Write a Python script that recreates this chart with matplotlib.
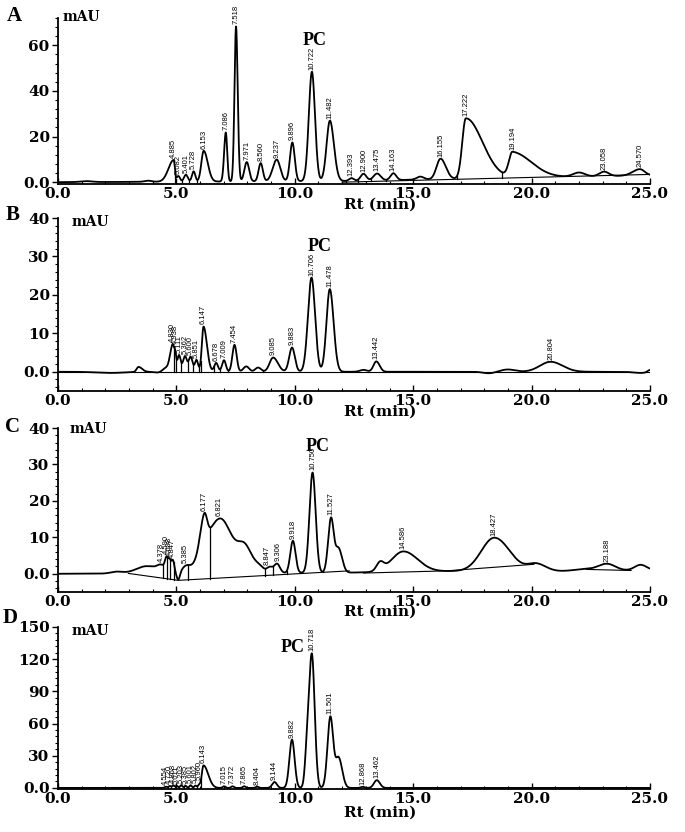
import numpy as np
import matplotlib.pyplot as plt
from matplotlib.ticker import MultipleLocator

W, H = 685, 832
t = np.linspace(0, 25, 5001)

# ---- peaks: rt (min), height (mAU), left/right sigma (min)
# panel A
a_rt = [1.2, 3.8, 4.885, 5.082, 5.401, 5.728, 6.153, 7.086, 7.518, 7.971, 8.560, 9.237, 9.896,
        10.722, 11.482, 12.393, 12.900, 13.475, 14.163, 15.3, 16.155, 17.222, 19.194, 22.0, 23.058, 24.570]
a_h = [0.4, 0.5, 9.5, 2.5, 3.0, 4.5, 13.5, 21.5, 68.0, 8.5, 8.0, 9.5, 17.0,
       48.0, 26.5, 1.2, 3.0, 3.0, 3.0, 1.3, 9.0, 26.5, 11.0, 1.8, 2.0, 2.8]
a_wl = [0.25, 0.15, 0.22, 0.07, 0.08, 0.07, 0.10, 0.07, 0.065, 0.10, 0.09, 0.17, 0.10,
        0.13, 0.14, 0.10, 0.12, 0.15, 0.12, 0.15, 0.17, 0.15, 0.15, 0.25, 0.20, 0.30]
a_wr = [0.25, 0.15, 0.05, 0.07, 0.08, 0.07, 0.17, 0.06, 0.07, 0.10, 0.09, 0.15, 0.10,
        0.13, 0.17, 0.10, 0.12, 0.15, 0.12, 0.15, 0.22, 0.70, 0.80, 0.25, 0.20, 0.20]
a_drift_t = [0, 12, 25]
a_drift_y = [0, 0.5, 3.0]
a_labels = ["4.885", "5.082", "5.401", "5.728", "6.153", "7.086", "7.518", "7.971", "8.560", "9.237",
            "9.896", "10.722", "11.482", "12.393", "12.900", "13.475", "14.163", "16.155", "17.222",
            "19.194", "23.058", "24.570"]
a_drops = [4.95, 5.25, 5.55, 5.88, 12.15, 12.65, 13.2, 13.85, 16.85, 18.75, 23.45]
a_segs = [([12.0, 25.0], [0.0, 3.4])]

# panel B
b_rt = [2.2, 3.4, 4.3, 4.55, 4.830, 4.938, 5.111, 5.362, 5.600, 5.851, 5.4, 6.147, 6.678, 7.009,
        7.454, 7.95, 8.45, 9.085, 9.883, 10.706, 11.478, 12.9, 13.442, 18.2, 19.0, 20.804, 24.6, 25.0]
b_h = [-0.3, 1.3, -0.3, 1.0, 6.0, 4.5, 3.2, 2.6, 2.6, 2.3, 1.5, 11.5, 2.3, 3.0,
       7.0, 1.4, 1.1, 3.7, 6.3, 24.5, 21.5, 0.5, 2.7, -0.4, 0.6, 2.6, -0.3, 0.6]
b_wl = [0.6, 0.08, 0.2, 0.15, 0.10, 0.05, 0.06, 0.07, 0.07, 0.06, 0.4, 0.07, 0.08, 0.08,
        0.09, 0.12, 0.12, 0.15, 0.12, 0.15, 0.14, 0.15, 0.12, 0.25, 0.3, 0.45, 0.3, 0.1]
b_wr = [0.6, 0.15, 0.2, 0.15, 0.05, 0.05, 0.06, 0.07, 0.07, 0.06, 0.4, 0.14, 0.08, 0.08,
        0.09, 0.12, 0.12, 0.20, 0.12, 0.15, 0.16, 0.15, 0.14, 0.25, 0.3, 0.50, 0.3, 0.1]
b_drift_t = [0, 25]
b_drift_y = [0, 0]
b_labels = ["4.830", "4.938", "5.111", "5.362", "5.600", "5.851", "6.147", "6.678", "7.009", "7.454",
            "9.085", "9.883", "10.706", "11.478", "13.442", "20.804"]
b_drops = [4.88, 4.99, 5.2, 5.48, 5.72, 5.95, 6.02, 6.6, 6.85, 7.2, 8.65]
b_segs = [([0.0, 25.0], [0.0, 0.0])]

# panel C
c_rt = [2.48, 3.75, 4.35, 4.59, 4.72, 4.85, 5.08, 5.40, 6.17, 6.85, 7.9, 8.5, 8.95, 9.25, 9.92,
        10.75, 11.53, 11.85, 13.6, 14.586, 18.427, 20.2, 22.3, 23.188, 24.6]
c_h = [0.5, 2.0, 1.2, 3.5, 2.5, 3.2, -2.2, 1.3, 8.5, 15.0, 6.5, 1.5, 1.5, 2.5, 8.8,
       27.5, 15.0, 6.5, 2.2, 5.6, 9.2, 2.0, 0.5, 1.8, 1.5]
c_wl = [0.25, 0.45, 0.15, 0.07, 0.05, 0.06, 0.07, 0.15, 0.17, 0.6, 0.3, 0.2, 0.12, 0.12, 0.11,
        0.13, 0.12, 0.12, 0.15, 0.5, 0.55, 0.35, 0.5, 0.35, 0.25]
c_wr = [0.25, 0.6, 0.15, 0.07, 0.05, 0.06, 0.07, 0.15, 0.12, 0.5, 0.3, 0.2, 0.12, 0.12, 0.11,
        0.13, 0.12, 0.15, 0.15, 0.6, 0.65, 0.4, 0.5, 0.35, 0.25]
c_drift_t = [0, 12, 16.4, 21.3, 25]
c_drift_y = [0, 0.3, 0.7, 0.7, 1.0]
c_labels = ["4.378", "4.590", "4.698", "4.847", "5.385", "6.177", "6.821", "8.847", "9.306", "9.918",
            "10.750", "11.527", "14.586", "18.427", "23.188"]
c_drops = [4.45, 4.62, 4.75, 4.88, 5.5, 6.4, 8.75, 9.08, 9.65, 11.2]
c_segs = [([2.97, 5.08, 12.3], [0.1, -1.8, 0.8]),
          ([12.9, 16.4, 20.1], [0.2, 0.8, 2.6]),
          ([22.3, 24.2], [1.2, 0.9])]

# panel D
d_rt = [4.554, 4.720, 4.868, 5.011, 5.203, 5.385, 5.601, 5.802, 5.960, 6.143, 7.015, 7.372,
        7.865, 8.404, 9.144, 9.882, 10.50, 10.718, 11.501, 11.85, 12.868, 13.462]
d_h = [1.2, 1.8, 2.2, 2.0, 2.5, 2.0, 2.5, 2.2, 2.8, 21.0, 1.5, 1.5,
       1.5, 1.2, 5.5, 45.0, 20.0, 125.0, 66.0, 28.0, 1.0, 7.2]
d_wl = [0.05, 0.05, 0.05, 0.05, 0.05, 0.05, 0.05, 0.05, 0.05, 0.07, 0.06, 0.06,
        0.06, 0.06, 0.10, 0.11, 0.08, 0.13, 0.12, 0.13, 0.08, 0.12]
d_wr = [0.05, 0.05, 0.05, 0.05, 0.05, 0.05, 0.05, 0.05, 0.05, 0.20, 0.06, 0.06,
        0.06, 0.06, 0.10, 0.11, 0.08, 0.12, 0.12, 0.15, 0.08, 0.13]
d_drift_t = [0, 25]
d_drift_y = [0, 0]
d_labels = ["4.554", "4.720", "4.868", "5.011", "5.203", "5.385", "5.601", "5.802", "5.960", "6.143",
            "7.015", "7.372", "7.865", "8.404", "9.144", "9.882", "10.718", "11.501", "12.868", "13.462"]
d_drops = [4.63, 4.79, 4.94, 5.1, 5.3, 5.49, 5.7, 5.88, 6.05, 7.2, 7.6, 8.1, 8.7, 12.6, 13.1]
d_segs = []

x_ticks = [0, 5, 10, 15, 20, 25]
x_ticklabels = ["0.0", "5.0", "10.0", "15.0", "20.0", "25.0"]

SERIF = ['DejaVu Serif']
TIMES = ['Liberation Serif', 'DejaVu Serif']
NARROW = ['Liberation Sans Narrow', 'Liberation Sans', 'DejaVu Sans']

fig = plt.figure(figsize=(W / 100, H / 100), dpi=100)


def base_at(x, segs):
    for st, sy in segs:
        if st[0] <= x <= st[-1]:
            return np.interp(x, st, sy)
    return 0.0


def panel(top, bottom, rt, h, wl, wr, dt, dy, labels, drops, segs,
          ylim, yticks, yticklabels, yminor, letter, ypos, pc_xy):
    ax = fig.add_axes([58 / W, 1 - bottom / H, 592 / W, (bottom - top) / H])
    y = np.interp(t, dt, dy)
    for r, hh, l, rr in zip(rt, h, wl, wr):
        s = np.where(t < r, l, rr)
        y = y + hh * np.exp(-0.5 * ((t - r) / s) ** 2)
    ax.plot(t, y, color='black', lw=1.3)
    for st, sy in segs:
        ax.plot(st, sy, color='black', lw=0.8)
    for d in drops:
        ax.plot([d, d], [base_at(d, segs), np.interp(d, t, y)], color='black', lw=0.9)
    for lab in labels:
        r = float(lab)
        m = (t > r - 0.06) & (t < r + 0.06)
        ax.annotate(lab, (r, y[m].max()), xytext=(0, 1.5), textcoords='offset points',
                    rotation=90, ha='center', va='bottom', fontsize=5.5, family=NARROW)
    ax.set_xlim(0, 25)
    ax.set_ylim(*ylim)
    for s in ['top', 'right']:
        ax.spines[s].set_visible(False)
    for s in ['left', 'bottom']:
        ax.spines[s].set_linewidth(1.3)
    ax.set_xticks(x_ticks)
    ax.set_xticklabels(x_ticklabels, family=SERIF, fontweight='bold', fontsize=11)
    ax.xaxis.set_minor_locator(MultipleLocator(1))
    ax.set_yticks(yticks)
    ax.set_yticklabels(yticklabels, family=SERIF, fontweight='bold', fontsize=11)
    ax.yaxis.set_minor_locator(MultipleLocator(yminor))
    ax.tick_params(axis='x', which='major', direction='in', length=4, width=1, pad=2)
    ax.tick_params(axis='x', which='minor', direction='in', length=2.5, width=0.8)
    ax.tick_params(axis='y', which='major', direction='out', length=4, width=1, pad=2)
    ax.tick_params(axis='y', which='minor', direction='out', length=2, width=0.8)
    ax.text(pc_xy[0], pc_xy[1], "PC", ha='center', va='center', family=TIMES,
            fontweight='bold', fontsize=13)
    fig.text(380 / W, 1 - ypos[0] / H, "Rt (min)", ha='center', va='center', family=SERIF,
             fontweight='bold', fontsize=11)
    fig.text(ypos[1] / W, 1 - ypos[2] / H, "mAU", ha='left', va='center', family=SERIF,
             fontweight='bold', fontsize=10)
    fig.text(ypos[3] / W, 1 - ypos[4] / H, letter, ha='center', va='center', family=TIMES,
             fontweight='bold', fontsize=15)
    return ax


panel(18, 184, a_rt, a_h, a_wl, a_wr, a_drift_t, a_drift_y, a_labels, a_drops, a_segs,
      (-0.8, 72), [0, 20, 40, 60], ["0.0", "20", "40", "60"], 4, "A",
      (205, 63, 17, 14, 16), (10.85, 62))
panel(218, 391, b_rt, b_h, b_wl, b_wr, b_drift_t, b_drift_y, b_labels, b_drops, b_segs,
      (-5, 40), [0, 10, 20, 30, 40], ["0.0", "10", "20", "30", "40"], 2, "B",
      (412, 72, 222, 13, 215), (11.06, 32.7))
panel(428, 592, c_rt, c_h, c_wl, c_wr, c_drift_t, c_drift_y, c_labels, c_drops, c_segs,
      (-5, 40), [0, 10, 20, 30, 40], ["0.0", "10", "20", "30", "40"], 2, "C",
      (612, 70, 429, 12, 427), (10.98, 34.9))
panel(627, 789, d_rt, d_h, d_wl, d_wr, d_drift_t, d_drift_y, d_labels, d_drops, d_segs,
      (-1, 150), [0, 30, 60, 90, 120, 150], ["0.0", "30", "60", "90", "120", "150"], 6, "D",
      (813, 72, 631, 10, 618), (9.92, 131))

fig.savefig("out.png", dpi=100)
